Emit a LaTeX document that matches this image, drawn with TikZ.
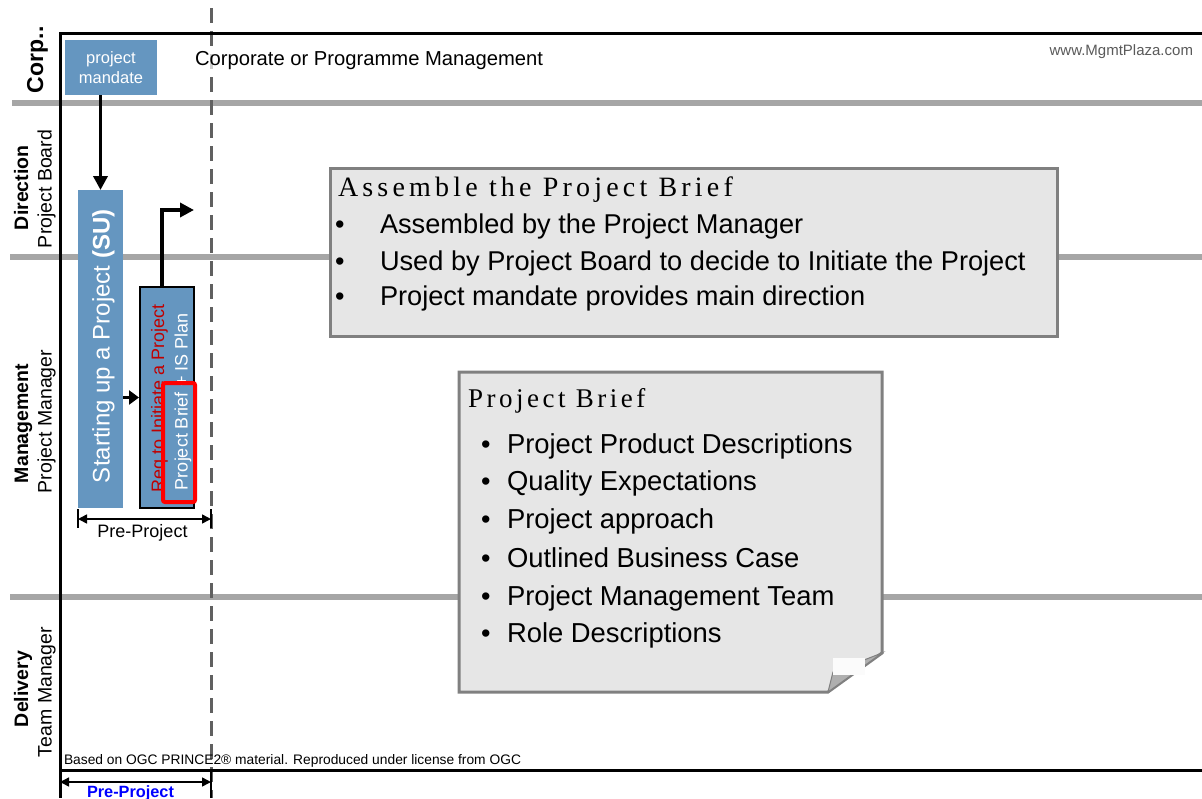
\documentclass[tikz,border=0pt]{standalone}
\usepackage{fontspec}
\setmainfont{Liberation Sans}
\newfontfamily\titleserif[LetterSpace=13]{Liberation Serif}
\newfontfamily\titleserifw[LetterSpace=15]{Liberation Serif}
\usetikzlibrary{arrows.meta}
\definecolor{pblue}{RGB}{101,150,192}
\definecolor{lanegray}{RGB}{166,166,166}
\definecolor{boxfill}{RGB}{230,230,230}
\definecolor{boxline}{RGB}{128,128,128}
\definecolor{reqred}{RGB}{192,0,0}
\definecolor{dashgray}{RGB}{96,96,96}
\definecolor{urlgray}{RGB}{90,90,90}
\definecolor{flapgray}{RGB}{175,175,175}
\newcommand{\fs}[1]{\fontsize{#1}{#1}\selectfont}
\tikzset{
  bluebox/.style={fill=pblue, draw=none, inner sep=0, outer sep=0},
  arr/.style={line width=3.5pt, -{Triangle[length=14pt,width=14pt]}},
  smallarr/.style={line width=3.5pt, -{Triangle[length=10pt,width=14pt]}},
  dimarr/.style={line width=1.5pt, {Triangle[length=9pt,width=9pt]}-{Triangle[length=9pt,width=9pt]}},
  tick/.style={line width=2pt},
  lane/.style={lanegray, line width=6pt},
  frameline/.style={black, line width=3pt},
  lbl/.style={inner sep=0, outer sep=0, anchor=base west},
  vlbl/.style={inner sep=0, outer sep=0, anchor=base west, rotate=90},
  notebox/.style={fill=boxfill, draw=boxline, line width=3pt},
  bullet/.style={lbl, font=\fs{27}},
}
\begin{document}
\begin{tikzpicture}[x=1pt,y=-1pt]
\useasboundingbox (0,0) rectangle (1202,798);
\fill[white] (0,0) rectangle (1202,798);

% swim lane separators
\draw[lane] (12,103) -- (1202,103);
\draw[lane] (10,257) -- (1202,257);
\draw[lane] (10,597) -- (1202,597);

% dashed stage boundary
\draw[dashgray, line width=3pt, dash pattern=on 15pt off 8pt] (211,8) -- (211,798);

% frame
\draw[frameline] (1202,33) -- (60,33) -- (60,798);
\draw[frameline] (60,770) -- (1202,770);

% lane labels
\node[vlbl, font=\bfseries\fs{23}] (corp) at (43,93) {Corp..};
\node[vlbl, font=\bfseries\fs{19.5}] (dirb) at (28,230) {Direction};
\node[vlbl, font=\fs{19.5}] (dirr) at (51.5,248) {Project Board};
\node[vlbl, font=\bfseries\fs{19.5}] (mgtb) at (28,483) {Management};
\node[vlbl, font=\fs{19.5}] (mgtr) at (51.5,493) {Project Manager};
\node[vlbl, font=\bfseries\fs{19.5}] (delb) at (28,727) {Delivery};
\node[vlbl, font=\fs{19.5}] (delr) at (51.5,757) {Team Manager};

% top texts
\node[lbl, font=\fs{20.2}, fill=white, fill opacity=0.7, text opacity=1] (corptext) at (195,65) {Corporate or Programme Management};
\node[inner sep=0, outer sep=0, anchor=base east, font=\fs{15}, text=urlgray] (url) at (1193,55) {www.MgmtPlaza.com};

% project mandate
\node[bluebox, minimum width=92pt, minimum height=55pt] (mandate) at (111,67.5) {};
\node[lbl, anchor=base, font=\fs{16.5}, text=white] (mand1) at (111,63) {project};
\node[lbl, anchor=base, font=\fs{16.5}, text=white] (mand2) at (111,83) {mandate};

% Starting up a project
\node[bluebox, minimum width=45pt, minimum height=318pt] (su) at (100.5,349) {};
\node[vlbl, font=\fs{24}, text=white] (sutext) at (109.5,483) {Starting up a Project \textbf{(SU)}};

% request box
\node[fill=pblue, draw=black, line width=2pt, inner sep=0, minimum width=54pt, minimum height=221pt] (req) at (167,397.5) {};
\node[vlbl, font=\fs{18}, text=reqred] (reqtext) at (164,492) {Req to Initiate a Project};
\node[vlbl, font=\fs{18}, text=white] (pbtext) at (187.5,490) {Project Brief + IS Plan};
\node[draw=red, line width=4pt, rounded corners=2pt, inner sep=0, minimum width=32pt, minimum height=119pt] (hilite) at (179,442.5) {};

% arrows
\draw[arr] (su.north |- mandate.south) -- (su.north);
\draw[smallarr] (su.east |- req.west) -- (req.west);
\coordinate (reqout) at (194,210);
\draw[arr] ([xshift=-5pt]req.north) |- (reqout);

% pre-project dimension (middle)
\coordinate (ppl) at (78,519);
\coordinate (ppr) at (211,519);
\draw[tick] (78,509) -- (78,528);
\draw[tick] (211,509) -- (211,528);
\draw[dimarr] (ppl) -- (ppr);
\node[lbl, anchor=base, font=\fs{18}] (pptext) at (142.5,537) {Pre-Project};

% bottom pre-project
\coordinate (bpl) at (60,782);
\coordinate (bpr) at (211,782);
\draw[tick] (211,770) -- (211,798);
\draw[dimarr] (bpl) -- (bpr);
\node[lbl, anchor=base, font=\bfseries\fs{16.3}, text=blue] (bptext) at (130.5,797) {Pre-Project};

\node[lbl, font=\fs{13.8}] (based) at (64,764) {Based on OGC PRINCE2\textregistered\ material. Reproduced under license from OGC};

% Assemble box
\node[notebox, inner sep=0, minimum width=727pt, minimum height=168pt] (abox) at (693.5,252) {};
\node[lbl, font=\titleserifw\fs{28}] (atitle) at (338,196) {Assemble the Project Brief};
\node[bullet] (ab1) at (335,233) {•};
\node[lbl, font=\fs{27.2}] (at1) at (380,233) {Assembled by the Project Manager};
\node[bullet] (ab2) at (335,270) {•};
\node[lbl, font=\fs{27.2}] (at2) at (380,270) {Used by Project Board to decide to Initiate the Project};
\node[bullet] (ab3) at (335,305) {•};
\node[lbl, font=\fs{27.2}] (at3) at (380,305) {Project mandate provides main direction};

% Project Brief note
\draw[notebox] (459,372) -- (882,372) -- (882,653) -- (828,692) -- (459,692) -- cycle;
\fill[flapgray, draw=boxline, line width=1pt] (882,653) -- (828,692) -- (833,672) -- cycle;
\fill[white!85!boxfill] (833,658) rectangle (865,675);
\node[lbl, font=\titleserif\fs{27}] (ptitle) at (468,407) {Project Brief};
\node[bullet] (pb1) at (481,453) {•};
\node[lbl, font=\fs{27.4}] (pt1) at (507,453) {Project Product Descriptions};
\node[bullet] (pb2) at (481,490.5) {•};
\node[lbl, font=\fs{27.4}] (pt2) at (507,490.5) {Quality Expectations};
\node[bullet] (pb3) at (481,528.5) {•};
\node[lbl, font=\fs{27.4}] (pt3) at (507,528.5) {Project approach};
\node[bullet] (pb4) at (481,567) {•};
\node[lbl, font=\fs{27.4}] (pt4) at (507,567) {Outlined Business Case};
\node[bullet] (pb5) at (481,605) {•};
\node[lbl, font=\fs{27.4}] (pt5) at (507,605) {Project Management Team};
\node[bullet] (pb6) at (481,642) {•};
\node[lbl, font=\fs{27.4}] (pt6) at (507,642) {Role Descriptions};
\end{tikzpicture}
\end{document}
